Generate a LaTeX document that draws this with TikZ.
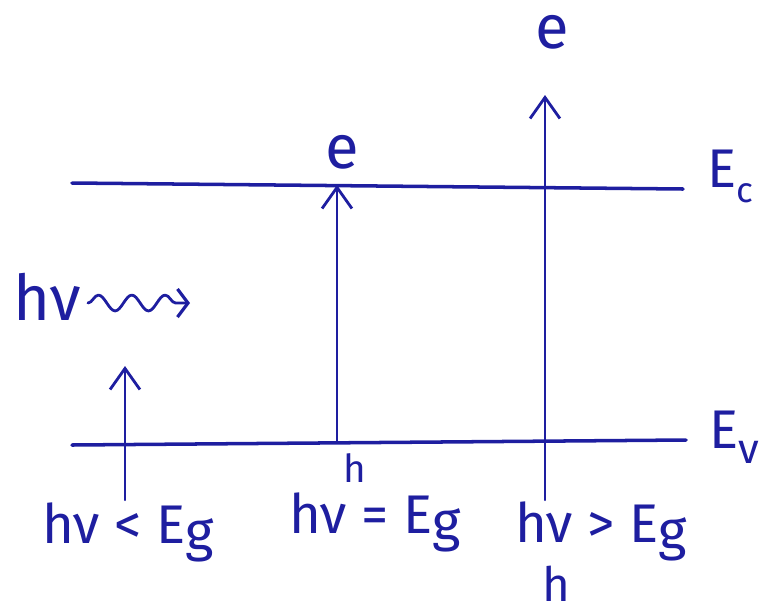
\documentclass[tikz,border=0pt]{standalone}
\usepackage{fontspec}
\setmainfont{Fira Sans}
\usepackage{tikz}
\usetikzlibrary{arrows, arrows.meta, decorations.pathmorphing}
\definecolor{pen}{RGB}{30,30,160}
\newcommand{\dropsub}[2][-4pt]{\raisebox{#1}{#2}}
\tikzstyle{level} = [draw, pen, line width=2pt]
\tikzstyle{line} = [draw, pen, line width=1.3pt, -{Straight Barb[length=12pt,width=17pt,line width=1.6pt]}]
\tikzstyle{wave} = [draw, pen, line width=1.6pt, -{Straight Barb[length=6pt,width=16pt,line width=1.8pt]}, decorate,
  decoration={snake, amplitude=4.5pt, segment length=19pt, post length=3pt}]
\tikzstyle{lbl} = [pen, inner sep=0pt, anchor=base west, font=\fontsize{31}{36}\selectfont]

\begin{document}
\begin{tikzpicture}[x=0.02cm,y=-0.02cm,line cap=round,line join=round]
		\useasboundingbox (0,0) rectangle (781,613);
		% band edges
		\coordinate (cl) at (72,183);
		\coordinate (cr) at (683,189);
		\coordinate (vl) at (72,445);
		\coordinate (vr) at (686,440);
		\draw [level] (cl)--(cr);
		\draw [level] (vl)--(vr);
		\node[lbl] (Ec) at (707,187) {E\dropsub[-9pt]{\fontsize{20}{24}\selectfont c}};
		\node[lbl] (Ev) at (709,448) {E\dropsub[-9pt]{\fontsize{24}{28}\selectfont v}};
		% incoming photon
		\node[lbl, font=\fontsize{36}{40}\selectfont] (hv) at (13,320) {hν};
		\coordinate (wbeg) at (88,303);
		\coordinate (wend) at (190,303);
		\draw [wave] (wbeg)--(wend);
		% three cases
		\node[lbl] (lo) at (42,543) {hν < E\dropsub{g}};
		\node[lbl] (eq) at (289,533) {hν = E\dropsub{g}};
		\node[lbl] (hi) at (515,542) {hν > E\dropsub{g}};
		\coordinate (lob) at (125,500);
		\coordinate (lot) at (125,366);
		\coordinate (eqb) at (337,442);
		\coordinate (eqt) at (337,185);
		\coordinate (hib) at (545,500);
		\coordinate (hit) at (545,95);
		\draw [line] (lob)--(lot);
		\draw [line] (eqb)--(eqt);
		\draw [line] (hib)--(hit);
		% electrons and holes
		\node[lbl, font=\fontsize{35}{40}\selectfont] (e1) at (325,168) {e};
		\node[lbl, font=\fontsize{35}{40}\selectfont] (e2) at (535,48) {e};
		\node[lbl, font=\fontsize{22}{26}\selectfont] (h1) at (343,482) {h};
		\node[lbl, font=\fontsize{27}{32}\selectfont] (h2) at (542,601) {h};
	\end{tikzpicture}
\end{document}
